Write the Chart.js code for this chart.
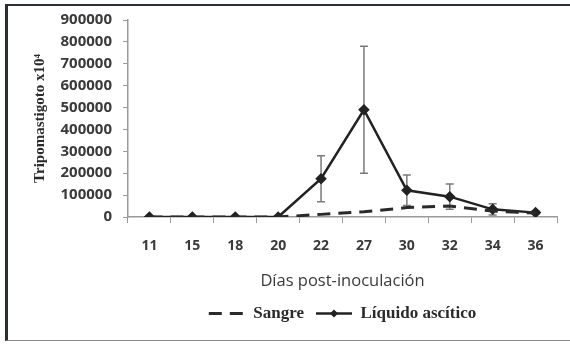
<!DOCTYPE html>
<html>
<head>
<meta charset="utf-8">
<script src="https://cdn.jsdelivr.net/npm/chart.js@4"></script>
<style>
    body { margin: 0; background: #fff; }
    #wrap { position: relative; width: 570px; height: 344px; overflow: hidden; }
    #frame {
        position: absolute; left: 5px; top: 4px; width: 580px; height: 337px;
        border-top: 2px solid #2b2e33; border-left: 3px solid #2b2e33; border-bottom: 1px solid #8a8a8a;
        box-sizing: border-box;
    }
    canvas { position: absolute; left: 0; top: 0; }
</style>
</head>
<body>
<div id="wrap">
    <div id="frame"></div>
    <canvas id="tripoChart" width="570" height="344"></canvas>
</div>
<script>
const dias = ['11', '15', '18', '20', '22', '27', '30', '32', '34', '36'];
const sangre = [0, 0, 0, 0, 12000, 24000, 43000, 50000, 27000, 18000];
const liquido = [0, 0, 0, 0, 175000, 490000, 122000, 93000, 35000, 20000];
const liquidoError = [0, 0, 0, 0, 105000, 290000, 70000, 58000, 26000, 8000];
const yTicks = [0, 100000, 200000, 300000, 400000, 500000, 600000, 700000, 800000, 900000];

// error bars for the ascitic fluid series
const errorBars = {
    id: 'errorBars',
    beforeDatasetsDraw(chart) {
        const ctx = chart.ctx;
        const x = chart.scales.x;
        const y = chart.scales.y;
        ctx.save();
        ctx.strokeStyle = '#7a7a7a';
        ctx.lineWidth = 1.5;
        for (let i = 0; i < liquido.length; i++) {
            if (!liquidoError[i]) continue;
            const px = x.getPixelForValue(i);
            const top = y.getPixelForValue(liquido[i] + liquidoError[i]);
            const bot = y.getPixelForValue(Math.max(0, liquido[i] - liquidoError[i]));
            ctx.beginPath();
            ctx.moveTo(px, top); ctx.lineTo(px, bot);
            ctx.moveTo(px - 4, top); ctx.lineTo(px + 4, top);
            ctx.moveTo(px - 4, bot); ctx.lineTo(px + 4, bot);
            ctx.stroke();
        }
        ctx.restore();
    }
};

// diamond on the legend sample of the solid line
const legendDiamond = {
    id: 'legendDiamond',
    afterDraw(chart) {
        const legend = chart.legend;
        if (!legend || !legend.legendHitBoxes || legend.legendHitBoxes.length < 2) return;
        const box = legend.legendHitBoxes[1];
        const cx = box.left + legend.options.labels.pointStyleWidth / 2;
        const cy = box.top + box.height / 2;
        const ctx = chart.ctx;
        ctx.save();
        ctx.fillStyle = '#222';
        ctx.beginPath();
        ctx.moveTo(cx, cy - 4); ctx.lineTo(cx + 4, cy); ctx.lineTo(cx, cy + 4); ctx.lineTo(cx - 4, cy);
        ctx.closePath();
        ctx.fill();
        ctx.restore();
    }
};

const tickFont = { family: '"Open Sans", sans-serif', size: 14, weight: 'bold' };

new Chart(document.getElementById('tripoChart').getContext('2d'), {
    type: 'line',
    data: {
        labels: dias,
        datasets: [
            {
                label: 'Sangre',
                data: sangre,
                borderColor: '#2a2a2a',
                backgroundColor: '#2a2a2a',
                borderWidth: 3,
                borderDash: [13, 8],
                pointRadius: 0,
                fill: false
            },
            {
                label: 'Líquido ascítico',
                data: liquido,
                borderColor: '#222',
                backgroundColor: '#222',
                borderWidth: 2.5,
                pointStyle: 'rectRot',
                pointRadius: 4,
                fill: false
            }
        ]
    },
    options: {
        responsive: false,
        animation: false,
        layout: { padding: { left: 31, right: 13, top: 20, bottom: 12 } },
        plugins: {
            tooltip: { enabled: false },
            legend: {
                position: 'bottom',
                fullSize: false,
                labels: {
                    usePointStyle: true,
                    pointStyle: 'line',
                    pointStyleWidth: 36,
                    boxHeight: 10,
                    padding: 12,
                    color: '#2a2a2a',
                    font: { family: '"Liberation Serif", serif', size: 17, weight: 'bold' },
                    generateLabels(chart) {
                        const items = Chart.defaults.plugins.legend.labels.generateLabels(chart);
                        items.forEach(item => {
                            const ds = chart.data.datasets[item.datasetIndex];
                            item.lineDash = ds.borderDash || [];
                            item.lineWidth = ds.borderWidth;
                        });
                        return items;
                    }
                }
            }
        },
        scales: {
            x: {
                offset: true,
                afterFit(axis) { axis.height = 76; },
                grid: { display: true, drawOnChartArea: false, offset: true, tickLength: 6, color: '#9a9a9a' },
                border: { color: '#9a9a9a', width: 1.5 },
                ticks: { color: '#3a3a3a', font: tickFont, padding: 15, maxRotation: 0 },
                title: {
                    display: true,
                    text: 'Días post-inoculación',
                    color: '#3a3a3a',
                    font: { family: '"Open Sans", sans-serif', size: 16.5 },
                    padding: { top: 8, bottom: 2 }
                }
            },
            y: {
                min: 0,
                max: 900000,
                afterBuildTicks(axis) { axis.ticks = yTicks.map(v => ({ value: v })); },
                afterFit(axis) { axis.width = 97; },
                grid: { display: true, drawOnChartArea: false, tickLength: 5, color: '#9a9a9a' },
                border: { color: '#9a9a9a', width: 1.5 },
                ticks: { color: '#3a3a3a', font: { family: '"Open Sans", sans-serif', size: 15, weight: 'bold' }, padding: 11, callback: v => String(v) },
                title: {
                    display: true,
                    text: 'Tripomastigoto x10⁴',
                    color: '#2a2a2a',
                    font: { family: '"Liberation Serif", serif', size: 15, weight: 'bold' },
                    padding: { top: 0, bottom: 8 }
                }
            }
        }
    },
    plugins: [errorBars, legendDiamond]
});
</script>
</body>
</html>
